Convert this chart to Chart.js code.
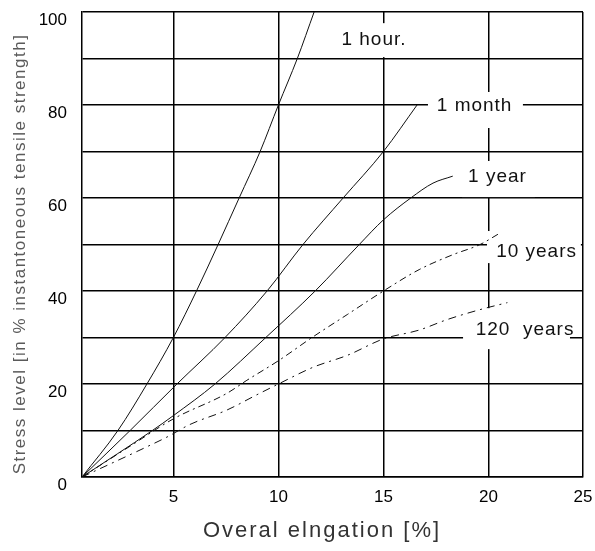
<!DOCTYPE html>
<html><head><meta charset="utf-8">
<script src="https://cdn.jsdelivr.net/npm/chart.js@4.4.1/dist/chart.umd.min.js"></script>
<style>html,body{margin:0;padding:0;background:#fff;}</style>
</head><body>
<canvas id="c" width="595" height="551"></canvas>
<script>
// ---- data ----
const seriesNames = ['1 hour', '1 month', '1 year', '10 years', '120 years'];

const hourX  = [0.65, 2.36, 3.74, 5.0, 6.1, 7.13, 8.13, 9.13, 10.0, 10.9, 11.7];
const hourY  = [0, 10, 20, 30, 40, 50, 60, 70, 80, 90, 100];

const monthX = [0.65, 2.94, 5.17, 7.46, 9.46, 11.17, 13.08, 15.0, 16.6];
const monthY = [0, 10, 20, 30, 40, 50, 60, 70, 80];

const yearX  = [0.65, 4.0, 5.0, 6.98, 9.4, 11.75, 13.85, 15.0, 16.3, 17.36, 18.3];
const yearY  = [0, 10, 13.2, 20, 30, 40, 50, 55.3, 60, 63.2, 64.7];

const tenX   = [0.65, 3.0, 5.0, 7.55, 8.5, 10.0, 11.6, 13.3, 15.0, 16.7, 18.3, 19.6, 20.45];
const tenY   = [0, 6.8, 12.5, 18.0, 20.8, 25.0, 30.0, 35.0, 40.0, 44.6, 47.8, 50.0, 52.2];

const c120X  = [0.65, 3.74, 4.7, 5.79, 7.55, 8.98, 10.0, 11.65, 13.3, 15.0, 16.7, 18.0, 19.6, 20.9];
const c120Y  = [0, 6.5, 8.6, 11.3, 14.4, 17.7, 20.0, 23.6, 26.2, 29.7, 31.6, 33.8, 36.0, 37.5];

const xTickValues = [5, 10, 15, 20, 24.5];
const xTickLabels = ['5', '10', '15', '20', '25'];
const yTickLabels = ['0', '20', '40', '60', '80', '100'];

const xTitle = 'Overal elngation [%]';
const yTitle = 'Stress level [in % instantoneous tensile strength]';
const curveLabels = ['1 hour.', '1 month', '1 year', '10 years', '120  years'];

// ---- layout of the in-plot labels (data coordinates) ----
const labelLayout = [
  {at: [14.55, 94.0], box: [12.93, 16.36, 90.3, 97.6]},
  {at: [19.34, 79.8], box: [17.12, 21.64, 75.05, 82.8]},
  {at: [20.43, 64.5], box: [18.74, 22.21, 60.2, 67.96]},
  {at: [22.29, 48.5], box: [19.93, 24.4, 46.0, 52.9]},
  {at: [21.74, 31.6], box: [18.79, 23.88, 27.5, 36.3]}
];

const FONT = '"Liberation Sans", Arial, sans-serif';
const pts = (xs, ys) => xs.map((x, i) => ({x: x, y: ys[i]}));
const seriesX = [hourX, monthX, yearX, tenX, c120X];
const seriesY = [hourY, monthY, yearY, tenY, c120Y];
const dashes = [[], [], [], [7, 4, 2, 4], [8, 5, 2, 5]];

const labelPlugin = {
  id: 'curveLabels',
  beforeDatasetsDraw(chart) {
    const {ctx, scales: {x, y}} = chart;
    ctx.save();
    labelLayout.forEach((l, i) => {
      const x1 = x.getPixelForValue(l.box[0]), x2 = x.getPixelForValue(l.box[1]);
      const y1 = y.getPixelForValue(l.box[3]), y2 = y.getPixelForValue(l.box[2]);
      ctx.fillStyle = '#fff';
      ctx.fillRect(x1, y1, x2 - x1, y2 - y1);
      ctx.fillStyle = '#111';
      ctx.font = '19px ' + FONT;
      try { ctx.letterSpacing = '1px'; } catch (e) {}
      ctx.textAlign = 'center';
      ctx.textBaseline = 'middle';
      ctx.fillText(curveLabels[i], x.getPixelForValue(l.at[0]), y.getPixelForValue(l.at[1]));
    });
    ctx.restore();
  },
  afterDraw(chart) {
    const {ctx} = chart;
    ctx.save();
    ctx.textAlign = 'center';
    ctx.textBaseline = 'middle';
    ctx.fillStyle = '#333';
    ctx.font = '22px ' + FONT;
    try { ctx.letterSpacing = '2px'; } catch (e) {}
    ctx.fillText(xTitle, 322, 531);
    ctx.translate(20, 254);
    ctx.rotate(-Math.PI / 2);
    ctx.fillStyle = '#5a5a5a';
    ctx.font = '17px ' + FONT;
    try { ctx.letterSpacing = '1.5px'; } catch (e) {}
    ctx.fillText(yTitle, 0, 0);
    ctx.restore();
  }
};

new Chart(document.getElementById('c'), {
  type: 'scatter',
  data: {
    datasets: seriesNames.map((n, i) => ({
      label: n,
      data: pts(seriesX[i], seriesY[i]),
      showLine: true,
      borderColor: '#111',
      borderWidth: 1,
      borderDash: dashes[i],
      pointRadius: 0,
      cubicInterpolationMode: 'monotone',
      fill: false
    }))
  },
  options: {
    responsive: false,
    animation: false,
    devicePixelRatio: 1,
    layout: {padding: {left: 0, right: 12, top: 12, bottom: 0}},
    plugins: {legend: {display: false}, tooltip: {enabled: false}},
    scales: {
      x: {
        type: 'linear', min: 0.65, max: 24.5,
        afterBuildTicks: s => { s.ticks = xTickValues.map(v => ({value: v})); },
        afterFit: s => { s.height = 74; s.paddingLeft = 0; s.paddingRight = 0; },
        ticks: {
          callback: (v, i) => xTickLabels[i],
          color: '#000', font: {family: FONT, size: 17}, padding: 10, maxRotation: 0, autoSkip: false
        },
        grid: {color: '#000', lineWidth: 1.5, drawTicks: false},
        border: {display: true, color: '#000', width: 1.5}
      },
      y: {
        type: 'linear', min: 0, max: 100,
        afterFit: s => { s.width = 82; s.paddingTop = 0; s.paddingBottom = 0; },
        ticks: {
          stepSize: 10,
          callback: v => (yTickLabels.indexOf(String(v)) >= 0 ? String(v) : ''),
          color: '#000', font: {family: FONT, size: 17}, padding: 15, labelOffset: 8
        },
        grid: {color: '#000', lineWidth: 1.5, drawTicks: false},
        border: {display: true, color: '#000', width: 1.5}
      }
    }
  },
  plugins: [labelPlugin]
});
</script>
</body></html>
